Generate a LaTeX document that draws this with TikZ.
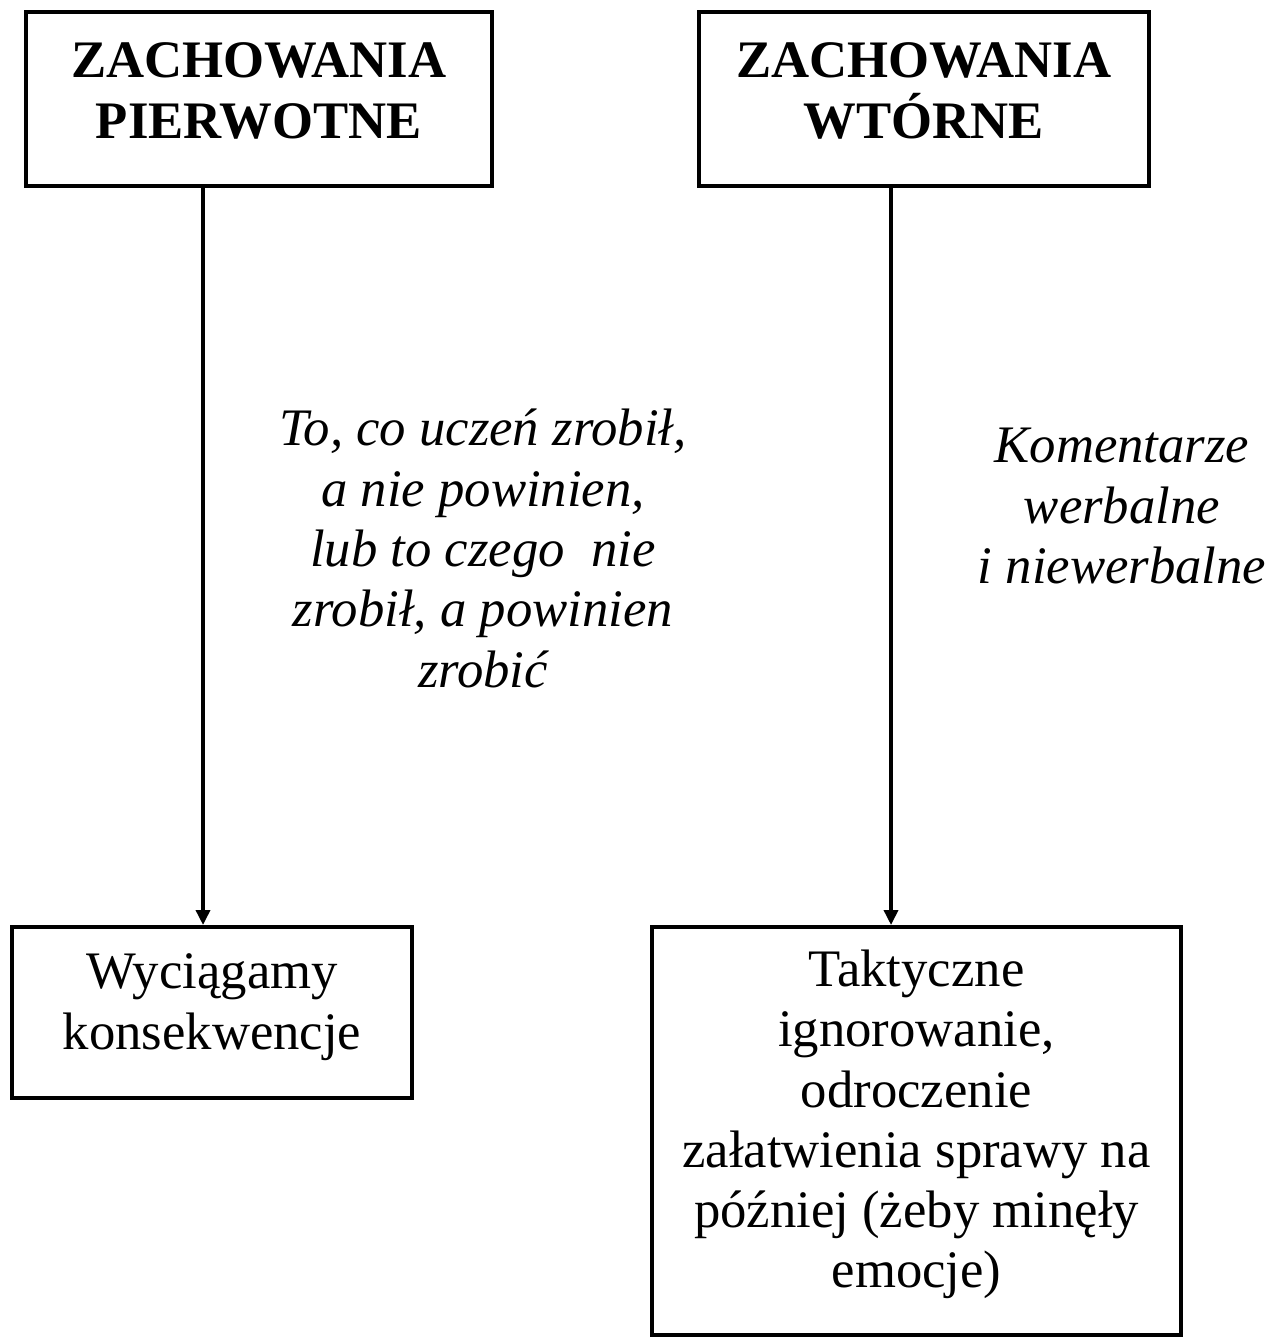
\documentclass[tikz,border=0pt]{standalone}
\usepackage{fontspec}
\setmainfont{Liberation Serif}
\usetikzlibrary{arrows.meta}
\begin{document}
\begin{tikzpicture}[x=0.02cm, y=-0.02cm,
    box/.style={draw, line width=2.3pt, align=center, inner sep=0pt, font=\fontsize{30}{34.3}\selectfont},
    headbox/.style={box, font=\fontsize{30}{34.3}\selectfont\bfseries},
    note/.style={align=center, inner sep=0pt, anchor=north, font=\fontsize{30}{34.3}\selectfont\itshape},
    conn/.style={line width=2pt, -{Triangle[length=0.3cm, width=0.28cm]}}]
            \useasboundingbox (0,0) rectangle (1275,1338);
            \node[headbox, minimum width=9.32cm, minimum height=3.48cm, text depth=0.34cm] (prim) at (259,99) {ZACHOWANIA\\PIERWOTNE};
            \node[headbox, minimum width=9cm, minimum height=3.48cm, text depth=0.34cm] (sec) at (924,99) {ZACHOWANIA\\WTÓRNE};
            \node[box, minimum width=8cm, minimum height=3.42cm, text depth=0.44cm] (consq) at (212,1012.5) {Wyciągamy\\konsekwencje};
            \node[box, minimum width=10.58cm, minimum height=8.16cm, text depth=0.48cm] (tact) at (916.5,1131) {Taktyczne\\ignorowanie,\\odroczenie\\załatwienia sprawy na\\później (żeby minęły\\emocje)};
            \node[note] (primnote) at (483,409) {To, co uczeń zrobił,\\a nie powinien,\\lub to czego \ nie\\zrobił, a powinien\\zrobić};
            \node[note] (secnote) at (1122,428) {Komentarze\\werbalne\\i niewerbalne};
            \draw[conn] ([xshift=-1.12cm]prim.south) -- ([xshift=-1.12cm]prim.south |- consq.north);
            \draw[conn] ([xshift=-0.66cm]sec.south) -- ([xshift=-0.66cm]sec.south |- tact.north);
        \end{tikzpicture}
\end{document}
